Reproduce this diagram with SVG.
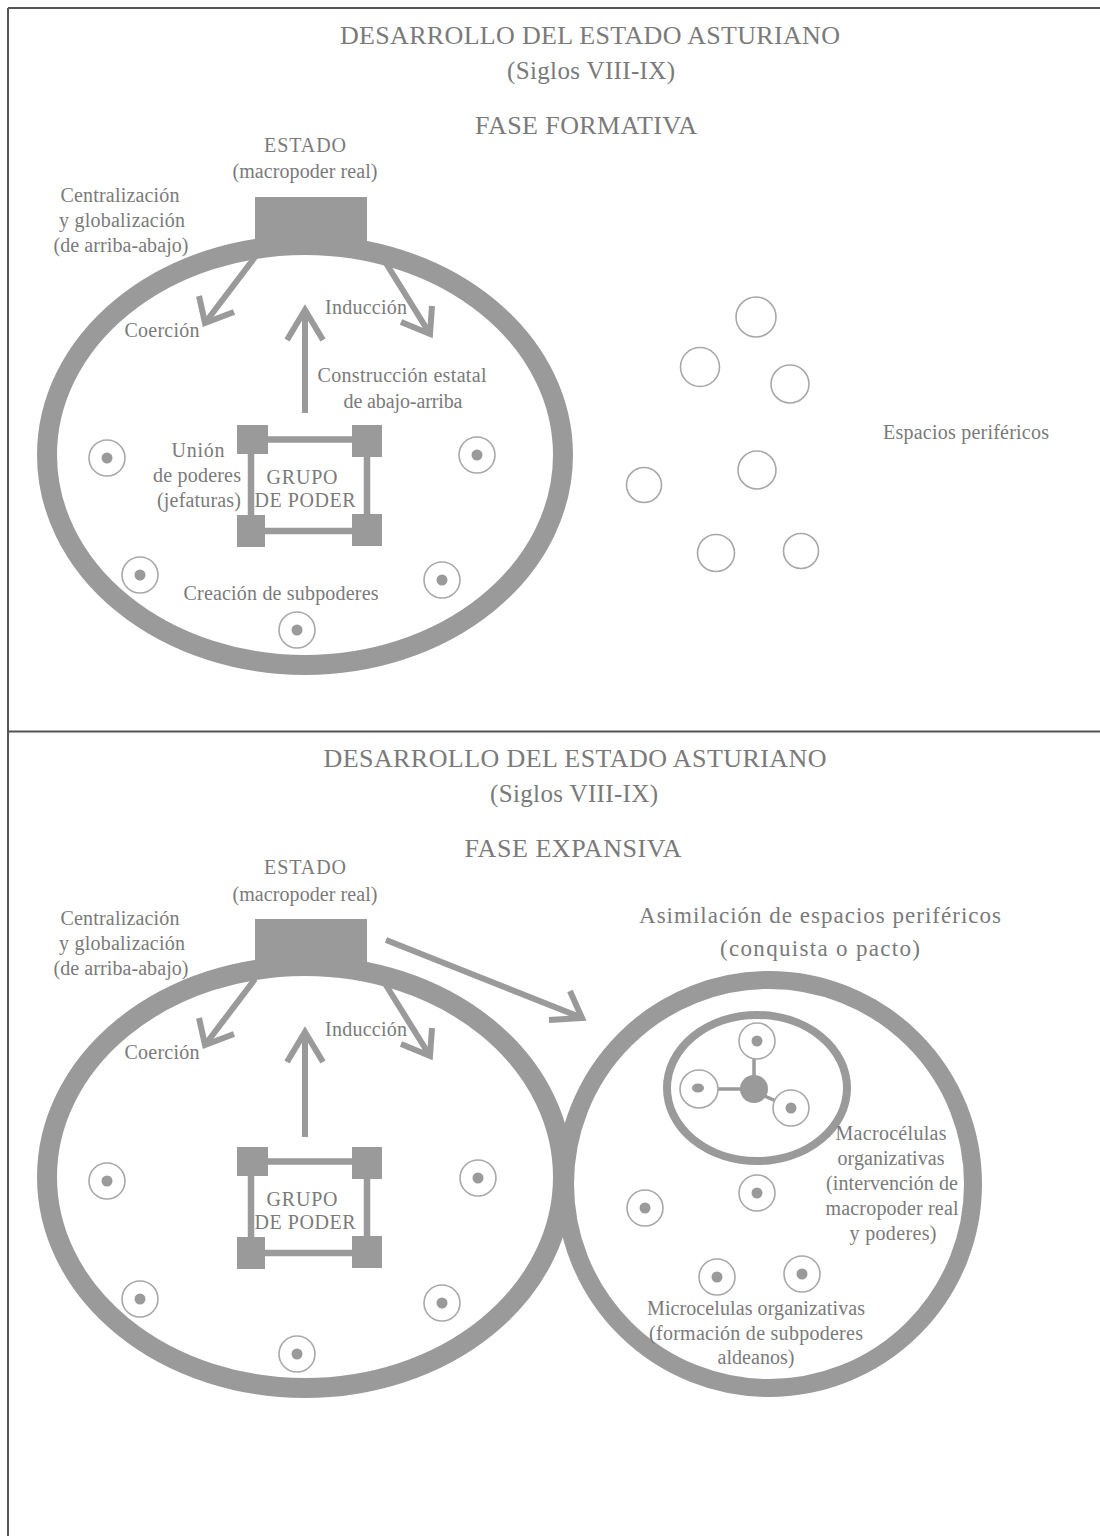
<svg xmlns="http://www.w3.org/2000/svg" width="1100" height="1536" viewBox="0 0 1100 1536">
<style>
text{font-family:"Liberation Serif","DejaVu Serif",serif;fill:#7a7a7a;text-anchor:middle;dominant-baseline:central}
.t{font-size:20px}
.h{font-size:26px}
.s{font-size:25px}
.a{font-size:23px}
.frame{stroke:#555;stroke-width:2;fill:none}
.ring{fill:none;stroke:#9a9a9a;stroke-width:20}
.sq{fill:#9a9a9a}
.bar{stroke:#9a9a9a;stroke-width:6.5;fill:none}
.arr{stroke:#9a9a9a;stroke-width:6;fill:none;stroke-linecap:butt;stroke-linejoin:miter}
.cr{fill:#fff;stroke:#a8a8a8;stroke-width:1.6}
.dot{fill:#9a9a9a}
.thin{stroke:#9a9a9a;stroke-width:3.5;fill:none}
</style>
<defs>
<g id="cellDef"><circle class="cr" r="18"/><circle class="dot" r="5.5"/></g>
<g id="grupoDef">
<line class="bar" x1="266" y1="439.5" x2="354" y2="439.5"/>
<line class="bar" x1="251" y1="452" x2="251" y2="517"/>
<line class="bar" x1="367" y1="455" x2="367" y2="516"/>
<line class="bar" x1="263" y1="531" x2="354" y2="531"/>
<rect class="sq" x="237" y="425" width="31" height="29"/>
<rect class="sq" x="352" y="425" width="30" height="32"/>
<rect class="sq" x="237" y="515" width="28" height="32"/>
<rect class="sq" x="352" y="514" width="30" height="32"/>
<text class="t" x="302" y="477" textLength="71" lengthAdjust="spacing">GRUPO</text>
<text class="t" x="305" y="500" textLength="101" lengthAdjust="spacing">DE PODER</text>
</g>
</defs>

<g id="frame">
<line class="frame" x1="8" y1="8" x2="1100" y2="8"/>
<line class="frame" x1="8" y1="8" x2="8" y2="1536"/>
<line class="frame" x1="8" y1="731.5" x2="1100" y2="731.5"/>
</g>

<!-- ===== TOP PANEL ===== -->
<g id="titulo1">
<text class="h" x="590" y="35" textLength="500" lengthAdjust="spacing">DESARROLLO DEL ESTADO ASTURIANO</text>
<text class="s" x="591" y="70" textLength="168" lengthAdjust="spacing">(Siglos VIII-IX)</text>
<text class="h" x="586" y="125" textLength="222" lengthAdjust="spacing">FASE FORMATIVA</text>
</g>

<g id="estado1">
<ellipse class="ring" cx="305" cy="455" rx="258" ry="210"/>
<rect class="sq" x="255" y="197" width="112" height="45"/>
<text class="t" x="305" y="145" textLength="82" lengthAdjust="spacing">ESTADO</text>
<text class="t" x="305" y="171" textLength="145" lengthAdjust="spacing">(macropoder real)</text>
<text class="t" x="120" y="195" textLength="119" lengthAdjust="spacing">Centralización</text>
<text class="t" x="122" y="220" textLength="126" lengthAdjust="spacing">y globalización</text>
<text class="t" x="121" y="245" textLength="135" lengthAdjust="spacing">(de arriba-abajo)</text>
</g>

<g id="grupo1">
<use href="#grupoDef"/>
<text class="t" x="198" y="450" textLength="53" lengthAdjust="spacing">Unión</text>
<text class="t" x="197" y="475" textLength="88" lengthAdjust="spacing">de poderes</text>
<text class="t" x="199" y="500" textLength="84" lengthAdjust="spacing">(jefaturas)</text>
</g>

<g id="celulas1">
<use href="#cellDef" x="107" y="458"/>
<use href="#cellDef" x="477" y="455"/>
<use href="#cellDef" x="140" y="575"/>
<use href="#cellDef" x="442" y="580"/>
<use href="#cellDef" x="297" y="630"/>
<text class="t" x="281" y="593" textLength="195" lengthAdjust="spacing">Creación de subpoderes</text>
</g>

<g id="periferia">
<circle class="cr" cx="756" cy="317" r="20"/>
<circle class="cr" cx="700" cy="367" r="19.5"/>
<circle class="cr" cx="790" cy="384" r="19"/>
<circle class="cr" cx="644" cy="485" r="17.5"/>
<circle class="cr" cx="757" cy="470" r="19"/>
<circle class="cr" cx="716" cy="553" r="18.5"/>
<circle class="cr" cx="801" cy="551" r="17.5"/>
<text class="t" x="966" y="432" textLength="166" lengthAdjust="spacing">Espacios periféricos</text>
</g>

<g id="conectores1">
<line class="arr" x1="255" y1="257" x2="205" y2="323"/>
<polyline class="arr" points="199,296 205,323 234,312"/>
<line class="arr" x1="384" y1="260" x2="430" y2="334"/>
<polyline class="arr" points="432,306 430,334 401,322"/>
<line class="arr" x1="305" y1="413" x2="305" y2="312"/>
<polyline class="arr" points="287,340 305,310 323,340"/>
<text class="t" x="162" y="330" textLength="75" lengthAdjust="spacing">Coerción</text>
<text class="t" x="366" y="307" textLength="82" lengthAdjust="spacing">Inducción</text>
<text class="t" x="402" y="375" textLength="169" lengthAdjust="spacing">Construcción estatal</text>
<text class="t" x="403" y="401" textLength="119" lengthAdjust="spacing">de abajo-arriba</text>
</g>

<!-- ===== BOTTOM PANEL ===== -->
<g id="titulo2">
<text class="h" x="575" y="758" textLength="503" lengthAdjust="spacing">DESARROLLO DEL ESTADO ASTURIANO</text>
<text class="s" x="574" y="793" textLength="168" lengthAdjust="spacing">(Siglos VIII-IX)</text>
<text class="h" x="573" y="848" textLength="217" lengthAdjust="spacing">FASE EXPANSIVA</text>
</g>

<g id="estado2">
<ellipse class="ring" cx="305" cy="1177" rx="258" ry="211"/>
<rect class="sq" x="255" y="919" width="112" height="45"/>
<text class="t" x="305" y="867" textLength="82" lengthAdjust="spacing">ESTADO</text>
<text class="t" x="305" y="894" textLength="145" lengthAdjust="spacing">(macropoder real)</text>
<text class="t" x="120" y="918" textLength="119" lengthAdjust="spacing">Centralización</text>
<text class="t" x="122" y="943" textLength="126" lengthAdjust="spacing">y globalización</text>
<text class="t" x="121" y="968" textLength="135" lengthAdjust="spacing">(de arriba-abajo)</text>
</g>

<g id="grupo2" transform="translate(0,722)">
<use href="#grupoDef"/>
</g>

<g id="celulas2">
<use href="#cellDef" x="107" y="1181"/>
<use href="#cellDef" x="478" y="1178"/>
<use href="#cellDef" x="140" y="1299"/>
<use href="#cellDef" x="442" y="1303"/>
<use href="#cellDef" x="297" y="1354"/>
</g>

<g id="asimilacion">
<circle class="ring" cx="769" cy="1184" r="204" style="stroke-width:18"/>
<text class="a" x="820" y="915" textLength="362" lengthAdjust="spacing">Asimilación de espacios periféricos</text>
<text class="a" x="820" y="948" textLength="200" lengthAdjust="spacing">(conquista o pacto)</text>
</g>

<g id="macrocelula">
<ellipse cx="757" cy="1088" rx="90" ry="73" fill="none" stroke="#9a9a9a" stroke-width="8"/>
<line class="thin" x1="754" y1="1058" x2="754" y2="1080"/>
<line class="thin" x1="718" y1="1089" x2="745" y2="1089"/>
<line class="thin" x1="760" y1="1094" x2="776" y2="1101"/>
<use href="#cellDef" x="757" y="1041"/>
<g><circle class="cr" cx="699" cy="1089" r="19"/><ellipse class="dot" cx="698" cy="1088" rx="6" ry="4.5"/></g>
<use href="#cellDef" x="791" y="1108"/>
<circle class="dot" cx="754" cy="1089" r="14"/>
<text class="t" x="891" y="1133" textLength="111" lengthAdjust="spacing">Macrocélulas</text>
<text class="t" x="891" y="1158" textLength="107" lengthAdjust="spacing">organizativas</text>
<text class="t" x="892" y="1183" textLength="132" lengthAdjust="spacing">(intervención de</text>
<text class="t" x="892" y="1208" textLength="133" lengthAdjust="spacing">macropoder real</text>
<text class="t" x="893" y="1233" textLength="87" lengthAdjust="spacing">y poderes)</text>
</g>

<g id="microcelulas">
<use href="#cellDef" x="645" y="1208"/>
<use href="#cellDef" x="757" y="1193"/>
<use href="#cellDef" x="717" y="1277"/>
<use href="#cellDef" x="802" y="1274"/>
<text class="t" x="756" y="1308" textLength="218" lengthAdjust="spacing">Microcelulas organizativas</text>
<text class="t" x="756" y="1333" textLength="214" lengthAdjust="spacing">(formación de subpoderes</text>
<text class="t" x="756" y="1357" textLength="77" lengthAdjust="spacing">aldeanos)</text>
</g>

<g id="conectores2">
<line class="arr" x1="255" y1="979" x2="205" y2="1045"/>
<polyline class="arr" points="199,1018 205,1045 234,1034"/>
<line class="arr" x1="384" y1="982" x2="430" y2="1056"/>
<polyline class="arr" points="432,1028 430,1056 401,1044"/>
<line class="arr" x1="305" y1="1137" x2="305" y2="1034"/>
<polyline class="arr" points="287,1062 305,1032 323,1062"/>
<line class="arr" x1="386" y1="940" x2="580" y2="1017"/>
<polyline class="arr" points="570,991 582,1018 549,1020"/>
<text class="t" x="162" y="1052" textLength="75" lengthAdjust="spacing">Coerción</text>
<text class="t" x="366" y="1029" textLength="82" lengthAdjust="spacing">Inducción</text>
</g>
</svg>
